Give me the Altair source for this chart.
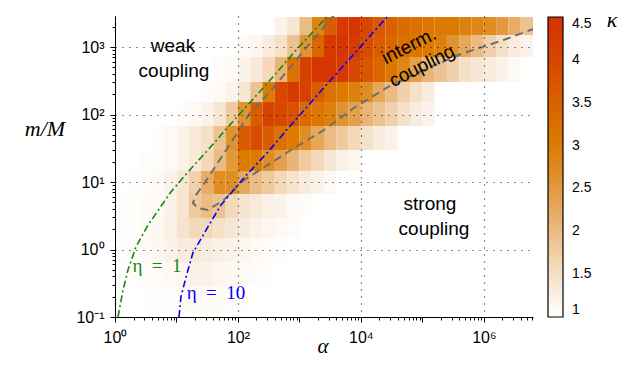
import altair as alt
import pandas as pd

# ---------------- data ----------------
# heat-map row edges (m/M), bottom -> top
MM_EDGES = [0.119, 0.288, 0.653, 1.48, 2.93, 6.64, 14.6, 29.8, 67.6, 153, 303, 711, 1507, 2780]
# heat-map column edges (alpha): one fifth of a decade each, 10^0 .. 10^6.8
ALPHA_EDGES = [10 ** (k / 5) for k in range(35)]

# kappa per row (bottom -> top): (index of first column, values)
KAPPA_ROWS = [
    (2, [1.02, 1.03, 1.05, 1.07, 1.1, 1.1, 1.08, 1.05, 1.03]),
    (1, [1.02, 1.04, 1.06, 1.1, 1.15, 1.2, 1.2, 1.15, 1.12, 1.08, 1.05, 1.03]),
    (0, [1.02, 1.05, 1.08, 1.12, 1.2, 1.3, 1.35, 1.3, 1.25, 1.2, 1.15, 1.1, 1.06, 1.04]),
    (0, [1.02, 1.04, 1.07, 1.12, 1.25, 1.45, 1.6, 1.6, 1.5, 1.4, 1.3, 1.2, 1.15, 1.1, 1.05]),
    (0, [1.02, 1.04, 1.07, 1.1, 1.2, 1.4, 1.8, 2.0, 1.9, 1.6, 1.45, 1.35, 1.25, 1.2, 1.1, 1.05]),
    (1, [1.03, 1.05, 1.1, 1.2, 1.4, 1.7, 2.2, 2.7, 2.7, 2.3, 2.0, 1.8, 1.6, 1.45, 1.3, 1.2, 1.1]),
    (2, [1.03, 1.05, 1.1, 1.2, 1.35, 1.6, 2.0, 2.5, 3.0, 3.0, 2.7, 2.4, 2.1, 1.8, 1.6, 1.4, 1.25, 1.15]),
    (3, [1.03, 1.1, 1.2, 1.35, 1.5, 1.9, 2.6, 3.6, 3.9, 3.6, 3.2, 3.0, 2.7, 2.3, 2.0, 1.8, 1.6, 1.45, 1.3, 1.2]),
    (5, [1.05, 1.1, 1.2, 1.4, 1.8, 2.6, 3.6, 4.1, 4.0, 3.8, 3.3, 3.1, 2.9, 2.6, 2.4, 2.1, 1.9, 1.7, 1.5, 1.3, 1.2]),
    (7, [1.05, 1.1, 1.2, 1.4, 1.9, 3.0, 4.0, 4.3, 4.1, 3.6, 3.2, 3.0, 2.9, 2.7, 2.3, 2.0, 1.7, 1.5, 1.3]),
    (8, [1.05, 1.1, 1.2, 1.35, 1.6, 2.1, 3.2, 4.1, 4.4, 4.4, 4.3, 4.0, 3.7, 3.4, 3.1, 2.8, 2.4, 2.1, 1.9, 1.7, 1.5, 1.4, 1.3, 1.2, 1.1]),
    (10, [1.1, 1.15, 1.3, 1.5, 1.9, 2.6, 3.4, 4.3, 4.4, 4.3, 3.9, 3.6, 3.4, 3.2, 3.1, 3.0, 2.9, 2.6, 2.3, 2.0, 1.7, 1.5, 1.3, 1.2]),
    (13, [1.2, 1.4, 2.0, 2.8, 3.6, 4.3, 4.4, 4.0, 3.7, 3.5, 3.3, 3.2, 3.1, 3.0, 3.0, 2.9, 2.8, 2.7, 2.5, 2.2, 1.9]),
]

# eta = 1 curve
ETA1_ALPHA = [1.12, 1.35, 1.63, 2.19, 3.44, 8.1, 15.4, 32.5, 68.8, 300, 980, 3200]
ETA1_MM = [0.1, 0.25, 0.5, 1.09, 2.3, 7.1, 14.1, 29.8, 65.3, 290, 1000, 3200]
# eta = 10 curve
ETA10_ALPHA = [11.0, 11.8, 14.3, 18.5, 33.8, 53, 125, 307, 728, 2240, 27500, 33000]
ETA10_MM = [0.1, 0.198, 0.39, 0.89, 2.3, 4.56, 11.5, 27.8, 69.8, 223, 2877, 3400]
# gray dashed contour (ordered along the curve)
GRAY_ALPHA = [3800, 1324, 385, 150, 112, 53, 32.5, 20.8, 18.5, 22.4, 32.5, 59, 112, 307, 728,
              2500, 7700, 27500, 94600, 423000, 1.89e6, 7.0e6]
GRAY_MM = [3100, 1000, 255, 100, 65, 22.7, 11.5, 6.4, 4.9, 4.1, 3.85, 5.4, 10, 17.9, 29.8,
           58.9, 125, 255, 441, 788, 1227, 1910]

KAPPA_TICKS = [1, 1.5, 2, 2.5, 3, 3.5, 4, 4.5]
KAPPA_COLORS = ["#ffffff", "#f5e0c8", "#ebbb84", "#e2993c", "#dc7b00", "#da6100", "#d84700", "#d63000"]

# ---------------- tables ----------------
cells = []
for r, (c0, vals) in enumerate(KAPPA_ROWS):
    for j, v in enumerate(vals):
        c = c0 + j
        cells.append({"a0": ALPHA_EDGES[c], "a1": ALPHA_EDGES[c + 1],
                      "m0": MM_EDGES[r], "m1": MM_EDGES[r + 1], "k": v})
heat_df = pd.DataFrame(cells)
eta1_df = pd.DataFrame({"a0": ETA1_ALPHA, "m0": ETA1_MM, "i": range(len(ETA1_MM))})
eta10_df = pd.DataFrame({"a0": ETA10_ALPHA, "m0": ETA10_MM, "i": range(len(ETA10_MM))})
gray_df = pd.DataFrame({"a0": GRAY_ALPHA, "m0": GRAY_MM, "i": range(len(GRAY_MM))})

# ---------------- scales & axes ----------------
xs = alt.Scale(type="log", domain=[1, 10 ** 6.8], nice=False)
ys = alt.Scale(type="log", domain=[0.1, 2880], nice=False)
cs = alt.Scale(domain=KAPPA_TICKS, range=KAPPA_COLORS, interpolate="rgb")

x_ticks = [k * 10 ** d for d in range(0, 7) for k in range(1, 10) if k * 10 ** d <= 6.3e6]
y_ticks = [round(0.1 * k, 6) for k in range(1, 10)] + [k * 10 ** d for d in range(0, 4) for k in range(1, 10) if k * 10 ** d <= 2880]

x_major = "datum.value == 1 || datum.value == 100 || datum.value == 10000 || datum.value == 1000000"
x_dec = x_major + " || datum.value == 10 || datum.value == 1000 || datum.value == 100000"
y_major = "datum.value == 0.1 || datum.value == 1 || datum.value == 10 || datum.value == 100 || datum.value == 1000"

xaxis = alt.Axis(
    values=x_ticks, title=None, zindex=1, labelFlush=False,
    labelExpr="datum.value == 1 ? '10⁰' : datum.value == 100 ? '10²' : datum.value == 10000 ? '10⁴' : datum.value == 1000000 ? '10⁶' : ''",
    tickSize={"condition": {"test": x_dec, "value": 5}, "value": 3},
    gridOpacity={"condition": {"test": x_major, "value": 0.9}, "value": 0},
    labelPadding=7,
)
yaxis = alt.Axis(
    values=y_ticks, title=None, zindex=1, labelFlush=False,
    labelExpr="datum.value == 0.1 ? '10⁻¹' : datum.value == 1 ? '10⁰' : datum.value == 10 ? '10¹' : datum.value == 100 ? '10²' : datum.value == 1000 ? '10³' : ''",
    tickSize={"condition": {"test": y_major, "value": 5}, "value": 3},
    gridOpacity={"condition": {"test": y_major, "value": 0.9}, "value": 0},
    labelPadding=6,
)

legend = alt.Legend(
    orient="none", legendX=433, legendY=1, direction="vertical", title=None, type="gradient",
    gradientLength=300, gradientThickness=15, gradientStrokeColor="black",
    gradientStrokeWidth=1.2, values=KAPPA_TICKS, format=".2~f",
    labelFont="Liberation Sans", labelFontSize=14, labelOffset=9, labelOverlap=False,
    labelColor="black",
)

X = alt.X("a0:Q", scale=xs, axis=xaxis)
Y = alt.Y("m0:Q", scale=ys, axis=yaxis)

heat = alt.Chart(heat_df).mark_rect().encode(
    x=X, x2="a1:Q", y=Y, y2="m1:Q",
    color=alt.Color("k:Q", scale=cs, legend=legend),
)


def curve(df, color, dash, width):
    return alt.Chart(df).mark_line(color=color, strokeDash=dash, strokeWidth=width, clip=True).encode(
        x=X, y=Y, order="i:Q",
    )


gray = curve(gray_df, "#6e6e6e", [8, 5], 2)
eta1 = curve(eta1_df, "#108a10", [7, 3, 2, 3], 1.6)
eta10 = curve(eta10_df, "#0000ff", [7, 3, 2, 3], 1.6)

dummy = pd.DataFrame({"d": [0]})


def label(text, x, y, size=19, color="black", font="Liberation Sans", style="normal", angle=0,
          baseline="alphabetic"):
    return alt.Chart(dummy).mark_text(
        text=text, font=font, fontSize=size, color=color, fontStyle=style, angle=angle,
        align="center", baseline=baseline,
    ).encode(x=alt.value(x), y=alt.value(y))


texts = [
    label("weak", 58, 36),
    label("coupling", 59, 61),
    label("strong", 315, 194),
    label("coupling", 319, 219),
    label("interm.", 294, 30, angle=333, baseline="middle"),
    label("coupling", 307, 50, angle=333, baseline="middle"),
    label("η\u2002=\u20021", 42, 256, size=19, color="#108a10", font="Liberation Serif"),
    label("η\u2002=\u200210", 101, 283, size=19, color="#0000ff", font="Liberation Serif"),
    label("m/M", -70, 120, size=22, font="Liberation Serif", style="italic"),
    label("α", 208, 331, size=21, font="Liberation Serif", style="italic", baseline="middle"),
    label("κ", 497, 4, size=22, font="Liberation Serif", style="italic", baseline="middle"),
]

chart = alt.layer(heat, gray, eta1, eta10, *texts).properties(
    width=418, height=301,
    autosize=alt.AutoSizeParams(type="none"),
    padding={"left": 107, "top": 8, "right": 100, "bottom": 44},
).configure_view(stroke=None).configure_axis(
    labelFont="Liberation Sans", labelFontSize=16, labelColor="black",
    domainColor="black", domainWidth=1, tickColor="black", tickWidth=1,
    grid=True, gridColor="black", gridDash=[1, 6], gridWidth=1.2,
)

chart.save("out.html", embed_options={"renderer": "svg", "actions": False})
